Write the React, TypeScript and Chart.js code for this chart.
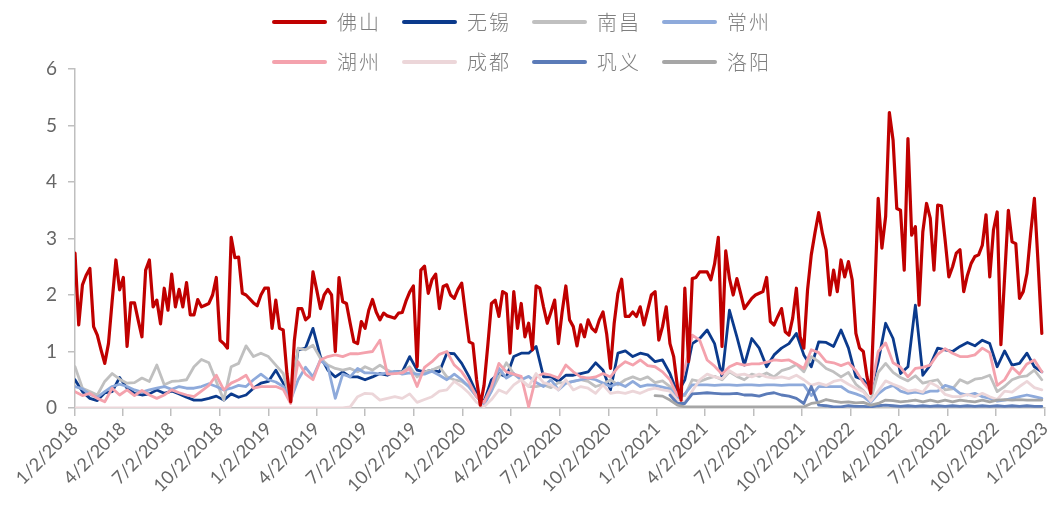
import React, { useEffect, useRef } from "react";
import { Chart, registerables } from "chart.js";

Chart.register(...registerables);

const startDate = "1/2/2018";
const endDate = "1/2/2023";

const tickLabels = [
  "1/2/2018", "4/2/2018", "7/2/2018", "10/2/2018",
  "1/2/2019", "4/2/2019", "7/2/2019", "10/2/2019",
  "1/2/2020", "4/2/2020", "7/2/2020", "10/2/2020",
  "1/2/2021", "4/2/2021", "7/2/2021", "10/2/2021",
  "1/2/2022", "4/2/2022", "7/2/2022", "10/2/2022",
  "1/2/2023",
];

const seriesNames = ["佛山", "无锡", "南昌", "常州", "湖州", "成都", "巩义", "洛阳"];
const seriesColors = ["#c00000", "#0b3a8c", "#c0c0c0", "#8eaadb", "#f4a2ad", "#ecd6d9", "#5b7bb8", "#a6a6a6"];

// 佛山: weekly, from week 0
const foshan = [
  2.74, 1.47, 2.18, 2.35, 2.47, 1.44, 1.29, 1.03, 0.79, 1.14,
  1.9, 2.62, 2.09, 2.31, 1.09, 1.86, 1.86, 1.55, 1.26, 2.44,
  2.62, 1.79, 1.91, 1.49, 2.12, 1.73, 2.37, 1.79, 2.10, 1.79,
  2.22, 1.65, 1.65, 1.92, 1.79, 1.82, 1.85, 2.0, 2.31, 1.2,
  1.14, 1.06, 3.02, 2.66, 2.67, 2.03, 2.0, 1.93, 1.86, 1.81,
  2.0, 2.12, 2.12, 1.41, 1.91, 1.41, 1.38, 0.61, 0.11, 1.2,
  1.76, 1.76, 1.56, 1.62, 2.41, 2.09, 1.76, 2.0, 2.10, 2.0,
  1.0, 2.31, 1.88, 1.85, 1.50, 1.17, 1.14, 1.53, 1.41, 1.73,
  1.92, 1.70, 1.56, 1.68, 1.63, 1.61, 1.59, 1.68, 1.69, 1.89,
  2.05, 2.16, 0.73, 2.44, 2.51, 2.03, 2.27, 2.37, 1.76, 2.15,
  2.18, 2.0, 1.94, 2.1, 2.21, 1.68, 1.17, 1.14, 0.50, 0.05,
  0.4, 1.1, 1.85, 1.91, 1.62, 2.06, 2.02, 0.97, 2.06, 1.41,
  1.85, 1.26, 1.50, 1.03, 2.16, 2.12, 1.79, 1.50, 1.70, 1.91,
  1.14, 1.70, 2.16, 1.56, 1.44, 1.10, 1.47, 1.26, 1.56, 1.41,
  1.35, 1.56, 1.70, 1.3, 0.70, 1.5, 2.03, 2.28, 1.62, 1.62,
  1.70, 1.62, 1.79, 1.47, 1.73, 2.0, 2.06, 1.20, 1.44, 1.79,
  1.14, 0.91, 0.38, 0.14, 2.12, 0.82, 2.29, 2.31, 2.41, 2.41,
  2.41, 2.27, 2.55, 3.02, 1.09, 2.78, 2.29, 2.0, 2.29, 2.03,
  1.76, 1.85, 1.94, 2.0, 2.03, 2.06, 2.31, 1.53, 1.47, 1.62,
  1.76, 1.35, 1.29, 1.59, 2.12, 1.26, 1.06, 2.09, 2.71, 3.1,
  3.46, 3.09, 2.80, 2.0, 2.44, 2.06, 2.62, 2.32, 2.59, 2.27,
  1.32, 1.06, 1.0, 0.55, 0.26, 1.91, 3.71, 2.83, 3.39, 5.23,
  4.74, 3.53, 3.50, 2.44, 4.77, 3.06, 3.21, 1.82, 3.12, 3.62,
  3.36, 2.44, 3.59, 3.58, 2.97, 2.32, 2.50, 2.74, 2.80, 2.06,
  2.35, 2.56, 2.68, 2.71, 2.88, 3.42, 2.32, 3.15, 3.47, 1.12,
  2.32, 3.50, 2.94, 2.91, 1.94, 2.06, 2.38, 3.09, 3.71, 2.56,
  1.32,
];

// the others: every 2 weeks, from week 0
const wuxi = [
  0.50, 0.29, 0.17, 0.13, 0.27, 0.29, 0.54, 0.35, 0.26, 0.23,
  0.25, 0.32, 0.26, 0.30, 0.25, 0.19, 0.14, 0.14, 0.17, 0.21,
  0.14, 0.25, 0.19, 0.23, 0.35, 0.44, 0.47, 0.67, 0.44, 0.11,
  1.03, 1.06, 1.41, 0.91, 0.67, 0.55, 0.64, 0.55, 0.55, 0.50,
  0.55, 0.61, 0.58, 0.64, 0.64, 0.91, 0.67, 0.64, 0.67, 0.64,
  0.97, 0.96, 0.79, 0.55, 0.26, 0.11, 0.5, 0.61, 0.55, 0.91,
  0.97, 0.97, 1.09, 0.55, 0.55, 0.47, 0.58, 0.58, 0.61, 0.64,
  0.80, 0.67, 0.32, 0.97, 1.01, 0.91, 0.97, 0.94, 0.82, 0.85,
  0.61, 0.26, 0.5, 1.14, 1.23, 1.38, 1.14, 0.55, 1.73, 1.26,
  0.76, 1.23, 1.06, 0.73, 0.94, 1.06, 1.14, 1.32, 0.94, 0.73,
  1.17, 1.16, 1.09, 1.38, 1.06, 0.55, 0.5, 0.32, 0.82, 1.5,
  1.23, 0.61, 0.73, 1.82, 0.58, 0.76, 1.06, 1.03, 1.0, 1.09,
  1.16, 1.1, 1.2, 1.14, 0.73, 1.01, 0.76, 0.79, 0.97, 0.73,
  0.64,
];

const nanchang = [
  0.73, 0.35, 0.29, 0.23, 0.47, 0.61, 0.51, 0.44, 0.45, 0.53,
  0.47, 0.76, 0.41, 0.47, 0.48, 0.5, 0.73, 0.86, 0.80, 0.47,
  0.14, 0.73, 0.79, 1.1, 0.91, 0.97, 0.91, 0.76, 0.61, 0.11,
  1.06, 1.03, 1.11, 0.88, 0.76, 0.70, 0.67, 0.70, 0.64, 0.73,
  0.67, 0.76, 0.67, 0.61, 0.64, 0.73, 0.55, 0.64, 0.67, 0.73,
  0.55, 0.5, 0.47, 0.38, 0.2, 0.1, 0.3, 0.55, 0.8, 0.6,
  0.5, 0.38, 0.38, 0.41, 0.36, 0.45, 0.44, 0.47, 0.5, 0.47,
  0.38, 0.42, 0.5, 0.41, 0.5, 0.55, 0.5, 0.55, 0.45, 0.48,
  0.38, 0.2, 0.22, 0.5, 0.47, 0.52, 0.56, 0.5, 0.64, 0.56,
  0.5, 0.6, 0.56, 0.62, 0.55, 0.66, 0.7, 0.77, 0.64, 0.91,
  0.82, 0.7, 0.64, 0.55, 0.63, 0.42, 0.31, 0.14, 0.63, 0.79,
  0.63, 0.54, 0.48, 0.57, 0.44, 0.47, 0.5, 0.32, 0.34, 0.5,
  0.44, 0.51, 0.53, 0.58, 0.29, 0.38, 0.5, 0.55, 0.57, 0.67,
  0.5,
];

const changzhou = [
  0.38, 0.34, 0.24, 0.19, 0.29, 0.38, 0.42, 0.38, 0.32, 0.28,
  0.32, 0.35, 0.38, 0.33, 0.38, 0.35, 0.35, 0.38, 0.43, 0.38,
  0.32, 0.35, 0.4, 0.38, 0.5, 0.6, 0.5, 0.46, 0.38, 0.14,
  0.5, 0.72, 0.55, 0.85, 0.73, 0.17, 0.6, 0.55, 0.7, 0.62,
  0.62, 0.6, 0.62, 0.65, 0.6, 0.62, 0.6, 0.6, 0.65, 0.58,
  0.5, 0.6, 0.5, 0.37, 0.2, 0.05, 0.3, 0.7, 0.53, 0.61,
  0.5, 0.56, 0.45, 0.38, 0.5, 0.32, 0.44, 0.47, 0.5, 0.53,
  0.5, 0.44, 0.38, 0.44, 0.38, 0.47, 0.38, 0.41, 0.4, 0.37,
  0.34, 0.17, 0.25, 0.41, 0.41, 0.41, 0.40, 0.41, 0.41, 0.40,
  0.41, 0.41, 0.40, 0.41, 0.41, 0.40, 0.41, 0.41, 0.41, 0.22,
  0.38, 0.38, 0.38, 0.38, 0.29, 0.25, 0.2, 0.1, 0.25, 0.35,
  0.4, 0.3, 0.26, 0.28, 0.26, 0.3, 0.3, 0.4, 0.36, 0.26,
  0.23, 0.26, 0.2, 0.17, 0.12, 0.14, 0.17, 0.2, 0.23, 0.2,
  0.17,
];

const huzhou = [
  0.29, 0.22, 0.26, 0.17, 0.11, 0.35, 0.23, 0.32, 0.22, 0.31,
  0.23, 0.17, 0.23, 0.32, 0.27, 0.23, 0.2, 0.3, 0.4, 0.58,
  0.32, 0.44, 0.5, 0.58, 0.35, 0.38, 0.38, 0.38, 0.33, 0.08,
  0.82, 0.6, 0.5, 0.85, 0.91, 0.94, 0.91, 0.96, 0.96, 0.98,
  1.0, 1.2, 0.6, 0.61, 0.62, 0.7, 0.38, 0.72, 0.82, 0.95,
  1.0, 0.76, 0.64, 0.45, 0.2, 0.1, 0.38, 0.79, 0.64, 0.6,
  0.56, 0.02, 0.55, 0.61, 0.58, 0.53, 0.76, 0.64, 0.55, 0.53,
  0.55, 0.61, 0.55, 0.72, 0.82, 0.76, 0.85, 0.75, 0.73, 0.64,
  0.5, 0.22, 0.7, 1.29, 1.2, 0.85, 0.74, 0.6, 0.73, 0.79,
  0.76, 0.78, 0.78, 0.81, 0.85, 0.84, 0.85, 0.78, 0.7, 1.03,
  0.98, 0.82, 0.8, 0.75, 0.8, 0.66, 0.45, 0.3, 1.0, 1.15,
  0.8, 0.72, 0.55, 0.7, 0.72, 0.76, 0.95, 1.05, 0.97, 0.91,
  0.91, 0.94, 1.06, 0.98, 0.4, 0.5, 0.72, 0.6, 0.78, 0.85,
  0.64,
];

const chengdu = [
  0, 0, 0, 0, 0, 0, 0, 0, 0, 0,
  0, 0, 0, 0, 0, 0, 0, 0, 0, 0,
  0, 0, 0, 0, 0, 0, 0, 0, 0, 0,
  0, 0, 0, 0, 0, 0, 0, 0.02, 0.2, 0.26,
  0.25, 0.14, 0.17, 0.2, 0.17, 0.25, 0.1, 0.15, 0.2, 0.3,
  0.32, 0.47, 0.38, 0.26, 0.1, 0.02, 0.15, 0.32, 0.26, 0.41,
  0.5, 0.38, 0.61, 0.45, 0.41, 0.32, 0.5, 0.32, 0.38, 0.35,
  0.26, 0.41, 0.26, 0.28, 0.26, 0.3, 0.26, 0.32, 0.35, 0.32,
  0.3, 0.14, 0.1, 0.3, 0.5, 0.6, 0.55, 0.52, 0.66, 0.58,
  0.6, 0.55, 0.6, 0.55, 0.53, 0.55, 0.52, 0.58, 0.5, 0.4,
  0.44, 0.4, 0.47, 0.5, 0.42, 0.35, 0.29, 0.12, 0.3, 0.48,
  0.42, 0.37, 0.3, 0.32, 0.28, 0.45, 0.38, 0.24, 0.2, 0.2,
  0.24, 0.2, 0.26, 0.2, 0.15, 0.3, 0.28, 0.38, 0.47, 0.36,
  0.32,
];

// every 2 weeks, from week 160
const gongyiStartWeek = 160;
const gongyi = [
  0.23, 0.08, 0.08, 0.25, 0.26, 0.27, 0.26, 0.25, 0.25, 0.26,
  0.23, 0.23, 0.21, 0.25, 0.27, 0.23, 0.21, 0.17, 0.08, 0.38,
  0.05, 0.04, 0.02, 0.02, 0.04, 0.03, 0.03, 0.02, 0.04, 0.05,
  0.04, 0.03, 0.04, 0.03, 0.04, 0.03, 0.04, 0.03, 0.04, 0.03,
  0.04, 0.03, 0.04, 0.03, 0.04, 0.03, 0.04, 0.03, 0.04, 0.03,
  0.03,
];

// every 2 weeks, from week 156
const luoyangStartWeek = 156;
const luoyang = [
  0.22, 0.21, 0.14, 0.05, 0.02, 0.02, 0.02, 0.02, 0.02, 0.02,
  0.02, 0.02, 0.02, 0.02, 0.02, 0.02, 0.02, 0.02, 0.02, 0.02,
  0.02, 0.08, 0.1, 0.15, 0.12, 0.1, 0.11, 0.09, 0.1, 0.05,
  0.08, 0.14, 0.13, 0.11, 0.12, 0.14, 0.11, 0.14, 0.11, 0.14,
  0.11, 0.14, 0.12, 0.11, 0.14, 0.11, 0.14, 0.15, 0.14, 0.15,
  0.14, 0.14, 0.14,
];

function parseMDY(s: string): number {
  const [m, d, y] = s.split("/").map(Number);
  return Date.UTC(y, m - 1, d);
}
const dayOf = (s: string) => Math.round((parseMDY(s) - parseMDY(startDate)) / 86400000);

function toPoints(values: number[], startWeek: number, stepWeeks: number) {
  return values.map((v, i) => ({ x: (startWeek + i * stepWeeks) * 7, y: v }));
}

export default function App() {
  const canvasRef = useRef<HTMLCanvasElement | null>(null);

  useEffect(() => {
    if (!canvasRef.current) return;
    const tickDays = tickLabels.map(dayOf);
    const labelMap = new Map<number, string>();
    tickDays.forEach((d, i) => labelMap.set(d, tickLabels[i]));

    const seriesData = [
      toPoints(foshan, 0, 1),
      toPoints(wuxi, 0, 2),
      toPoints(nanchang, 0, 2),
      toPoints(changzhou, 0, 2),
      toPoints(huzhou, 0, 2),
      toPoints(chengdu, 0, 2),
      toPoints(gongyi, gongyiStartWeek, 2),
      toPoints(luoyang, luoyangStartWeek, 2),
    ];
    const orders = [0, 7, 6, 5, 4, 3, 2, 1];

    const chart = new Chart(canvasRef.current, {
      type: "line",
      data: {
        datasets: seriesNames.map((name, i) => ({
          label: name,
          data: seriesData[i],
          borderColor: seriesColors[i],
          backgroundColor: seriesColors[i],
          borderWidth: i === 0 ? 3.2 : 2.8,
          pointRadius: 0,
          tension: 0,
          fill: false,
          borderJoinStyle: "round" as const,
          borderCapStyle: "round" as const,
          order: orders[i],
        })),
      },
      options: {
        animation: false,
        responsive: true,
        maintainAspectRatio: false,
        layout: { padding: { top: 61, right: 4, left: 0, bottom: 0 } },
        plugins: {
          legend: { display: false },
          tooltip: { enabled: false },
        },
        scales: {
          x: {
            type: "linear",
            min: 0,
            max: dayOf(endDate),
            afterBuildTicks: (scale: any) => {
              scale.ticks = tickDays.map((v) => ({ value: v }));
            },
            afterFit: (scale: any) => {
              scale.height = 102;
              scale.paddingRight = 0;
              scale.paddingLeft = 0;
            },
            grid: {
              display: true,
              drawOnChartArea: false,
              drawTicks: true,
              tickLength: 8,
              color: "#bfbfbf",
              lineWidth: 1.5,
            },
            border: { display: true, color: "#bfbfbf", width: 1.5 },
            ticks: {
              autoSkip: false,
              minRotation: 45,
              maxRotation: 45,
              padding: 2,
              color: "#666666",
              font: { family: "Lato, 'Liberation Sans', sans-serif", size: 18 },
              callback: (v: any) => labelMap.get(Number(v)) ?? "",
            },
          },
          y: {
            min: 0,
            max: 6,
            afterFit: (scale: any) => {
              scale.width = 67;
            },
            grid: {
              display: true,
              drawOnChartArea: false,
              drawTicks: true,
              tickLength: 7,
              color: "#bfbfbf",
              lineWidth: 1.5,
            },
            border: { display: true, color: "#bfbfbf", width: 1.5 },
            ticks: {
              stepSize: 1,
              padding: 11,
              color: "#666666",
              font: { family: "Lato, 'Liberation Sans', sans-serif", size: 19 },
            },
          },
        },
      },
    });
    return () => chart.destroy();
  }, []);

  const legendLeft = 264;
  const colWidth = 130;
  const rowTops = [14, 54];

  return (
    <div style={{ position: "relative", width: 1041, height: 502 }}>
      <canvas ref={canvasRef} />
      {seriesNames.map((name, i) => {
        const row = Math.floor(i / 4);
        const col = i % 4;
        return (
          <div
            key={name}
            style={{
              position: "absolute",
              left: legendLeft + col * colWidth,
              top: rowTops[row] - 12,
              height: 24,
              display: "flex",
              alignItems: "center",
              pointerEvents: "none",
            }}
          >
            <span
              style={{
                display: "inline-block",
                width: 55,
                height: 4,
                borderRadius: 2,
                background: seriesColors[i],
                marginRight: 10,
              }}
            />
            <span
              style={{
                fontFamily: "'Noto Sans CJK SC', sans-serif",
                fontSize: 20,
                fontWeight: 300,
                letterSpacing: 2,
                color: "#7f7f7f",
                lineHeight: "24px",
              }}
            >
              {name}
            </span>
          </div>
        );
      })}
    </div>
  );
}
